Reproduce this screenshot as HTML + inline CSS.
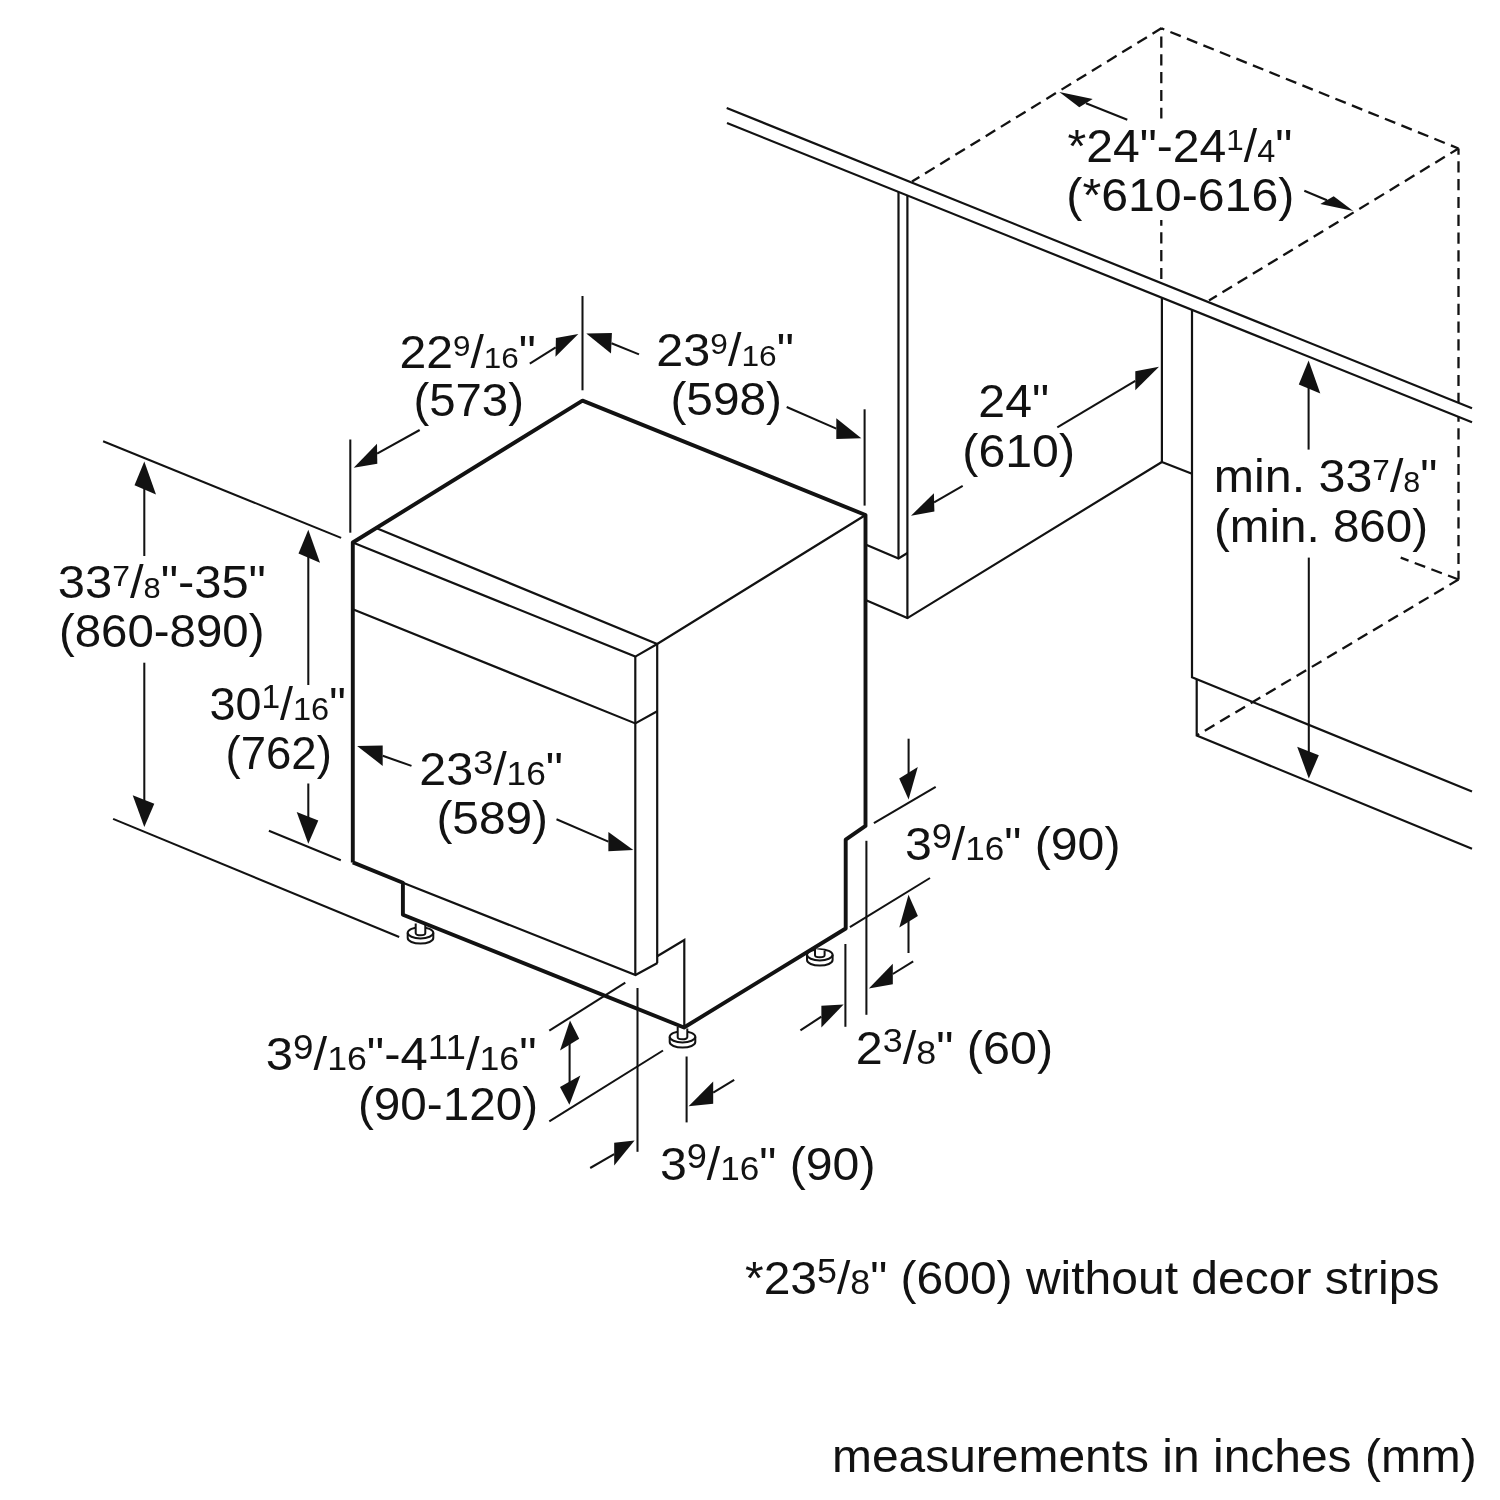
<!DOCTYPE html>
<html><head><meta charset="utf-8"><title>Dishwasher installation dimensions</title>
<style>
html,body{margin:0;padding:0;background:#fff;}
body{width:1500px;height:1500px;overflow:hidden;}
svg{display:block;}
text{font-family:"Liberation Sans",sans-serif;fill:#121212;white-space:pre;}
</style></head>
<body>
<svg width="1500" height="1500" viewBox="0 0 1500 1500">
<rect width="1500" height="1500" fill="#fff"/>
<path d="M898.5,191.5 L898.5,558.2" fill="none" stroke="#121212" stroke-width="2.2" stroke-linecap="butt" stroke-linejoin="miter"/>
<path d="M907.4,195.2 L907.4,618.4" fill="none" stroke="#121212" stroke-width="2.2" stroke-linecap="butt" stroke-linejoin="miter"/>
<path d="M866.7,545.0 L898.5,558.4 L907.4,553.0" fill="none" stroke="#121212" stroke-width="2.2" stroke-linecap="butt" stroke-linejoin="miter"/>
<path d="M866.7,600.5 L907.4,618.1 L1161.9,462.0" fill="none" stroke="#121212" stroke-width="2.2" stroke-linecap="butt" stroke-linejoin="miter"/>
<path d="M1161.9,298.0 L1161.9,462.0 L1192.0,473.7" fill="none" stroke="#121212" stroke-width="2.2" stroke-linecap="butt" stroke-linejoin="miter"/>
<path d="M1192.0,309.5 L1192.0,677.2 L1472.0,791.5" fill="none" stroke="#121212" stroke-width="2.2" stroke-linecap="butt" stroke-linejoin="miter"/>
<path d="M1196.7,679.2 L1196.7,735.5 L1472.0,848.7" fill="none" stroke="#121212" stroke-width="2.2" stroke-linecap="butt" stroke-linejoin="miter"/>
<path d="M1161.3,28.3 L912.0,181.5" fill="none" stroke="#121212" stroke-width="2.3" stroke-linecap="butt" stroke-linejoin="miter" stroke-dasharray="11.2 6.6" stroke-dashoffset="0.9"/>
<path d="M1161.3,28.3 L1458.5,148.5" fill="none" stroke="#121212" stroke-width="2.3" stroke-linecap="butt" stroke-linejoin="miter" stroke-dasharray="11.2 6.6" stroke-dashoffset="8"/>
<path d="M1161.3,27.7 L1161.3,283.2" fill="none" stroke="#121212" stroke-width="2.3" stroke-linecap="butt" stroke-linejoin="miter" stroke-dasharray="11.2 6.6" stroke-dashoffset="9.0"/>
<path d="M1458.5,148.5 L1458.5,579.5" fill="none" stroke="#121212" stroke-width="2.3" stroke-linecap="butt" stroke-linejoin="miter" stroke-dasharray="11.2 6.6" stroke-dashoffset="5"/>
<path d="M1458.5,148.5 L1209.0,300.5" fill="none" stroke="#121212" stroke-width="2.3" stroke-linecap="butt" stroke-linejoin="miter" stroke-dasharray="11.2 6.6" stroke-dashoffset="1.8"/>
<path d="M1458.5,579.5 L1400.7,557.7" fill="none" stroke="#121212" stroke-width="2.3" stroke-linecap="butt" stroke-linejoin="miter" stroke-dasharray="11.2 6.6" stroke-dashoffset="0"/>
<path d="M1458.5,579.5 L1196.7,735.5" fill="none" stroke="#121212" stroke-width="2.3" stroke-linecap="butt" stroke-linejoin="miter" stroke-dasharray="11.2 6.6" stroke-dashoffset="0.7"/>
<rect x="1150" y="118.5" width="22" height="101.5" fill="#fff"/>
<polygon points="726.7,108 1472,408.3 1472,422.3 727,123" fill="#fff"/>
<path d="M726.7,108.0 L1472.0,408.3" fill="none" stroke="#121212" stroke-width="2.2" stroke-linecap="butt" stroke-linejoin="miter"/>
<path d="M727.0,123.0 L1472.0,422.3" fill="none" stroke="#121212" stroke-width="2.2" stroke-linecap="butt" stroke-linejoin="miter"/>
<path d="M407.7,932.8 v5.2 a12.8,5.6 0 0 0 25.6,0 v-5.2" fill="#fff" stroke="#121212" stroke-width="2"/>
<ellipse cx="420.5" cy="932.8" rx="12.8" ry="5.6" fill="#fff" stroke="#121212" stroke-width="2"/>
<path d="M415.7,923.5 V933.3 a4.8,2 0 0 0 9.6,0 V925.0" fill="#fff" stroke="#121212" stroke-width="2"/>
<path d="M669.7,1036.8 v5.2 a12.8,5.6 0 0 0 25.6,0 v-5.2" fill="#fff" stroke="#121212" stroke-width="2"/>
<ellipse cx="682.5" cy="1036.8" rx="12.8" ry="5.6" fill="#fff" stroke="#121212" stroke-width="2"/>
<path d="M677.7,1027.0 V1037.3 a4.8,2 0 0 0 9.6,0 V1028.5" fill="#fff" stroke="#121212" stroke-width="2"/>
<path d="M807.0,954.8 v5.2 a12.8,5.6 0 0 0 25.6,0 v-5.2" fill="#fff" stroke="#121212" stroke-width="2"/>
<ellipse cx="819.8" cy="954.8" rx="12.8" ry="5.6" fill="#fff" stroke="#121212" stroke-width="2"/>
<path d="M815.0,949.0 V955.3 a4.8,2 0 0 0 9.6,0 V950.5" fill="#fff" stroke="#121212" stroke-width="2"/>
<path d="M352.8,542.5 L635.3,656.6 L657.2,644.0" fill="none" stroke="#121212" stroke-width="2.2" stroke-linecap="butt" stroke-linejoin="miter"/>
<path d="M376.7,528.3 L657.2,644.0 L865.5,515.0" fill="none" stroke="#121212" stroke-width="2.2" stroke-linecap="butt" stroke-linejoin="miter"/>
<path d="M352.8,609.3 L635.3,723.4 L657.2,711.2" fill="none" stroke="#121212" stroke-width="2.2" stroke-linecap="butt" stroke-linejoin="miter"/>
<path d="M635.3,656.6 L635.3,975.0" fill="none" stroke="#121212" stroke-width="2.2" stroke-linecap="butt" stroke-linejoin="miter"/>
<path d="M657.2,644.0 L657.2,963.0" fill="none" stroke="#121212" stroke-width="2.2" stroke-linecap="butt" stroke-linejoin="miter"/>
<path d="M402.9,882.7 L635.5,975.0 L657.5,963.0" fill="none" stroke="#121212" stroke-width="2.2" stroke-linecap="butt" stroke-linejoin="miter"/>
<path d="M657.2,956.2 L684.3,940.0 L684.3,1027.0" fill="none" stroke="#121212" stroke-width="2.2" stroke-linecap="butt" stroke-linejoin="miter"/>
<path d="M352.8,862.4 L352.8,542.5 L582.5,400.6 L865.5,515.0 L865.5,825.9 L845.7,839.7 L845.7,928.5 L684.0,1027.5 L402.9,914.7 L402.9,882.7 L352.8,862.4" fill="none" stroke="#121212" stroke-width="3.9" stroke-linecap="butt" stroke-linejoin="round"/>
<path d="M103.1,441.2 L341.1,537.9" fill="none" stroke="#121212" stroke-width="2.05" stroke-linecap="butt" stroke-linejoin="miter"/>
<path d="M113.1,818.9 L399.2,937.0" fill="none" stroke="#121212" stroke-width="2.05" stroke-linecap="butt" stroke-linejoin="miter"/>
<path d="M268.9,830.7 L340.8,860.2" fill="none" stroke="#121212" stroke-width="2.05" stroke-linecap="butt" stroke-linejoin="miter"/>
<path d="M350.3,439.5 L350.3,532.7" fill="none" stroke="#121212" stroke-width="2.05" stroke-linecap="butt" stroke-linejoin="miter"/>
<path d="M582.5,296.0 L582.5,390.3" fill="none" stroke="#121212" stroke-width="2.05" stroke-linecap="butt" stroke-linejoin="miter"/>
<path d="M864.6,409.3 L864.6,505.6" fill="none" stroke="#121212" stroke-width="2.05" stroke-linecap="butt" stroke-linejoin="miter"/>
<path d="M866.4,840.8 L866.4,1014.8" fill="none" stroke="#121212" stroke-width="2.05" stroke-linecap="butt" stroke-linejoin="miter"/>
<path d="M845.4,944.0 L845.4,1026.8" fill="none" stroke="#121212" stroke-width="2.05" stroke-linecap="butt" stroke-linejoin="miter"/>
<path d="M873.9,823.2 L935.7,786.9" fill="none" stroke="#121212" stroke-width="2.05" stroke-linecap="butt" stroke-linejoin="miter"/>
<path d="M849.9,927.2 L930.0,878.0" fill="none" stroke="#121212" stroke-width="2.05" stroke-linecap="butt" stroke-linejoin="miter"/>
<path d="M625.3,982.7 L549.3,1030.7" fill="none" stroke="#121212" stroke-width="2.05" stroke-linecap="butt" stroke-linejoin="miter"/>
<path d="M663.0,1050.5 L549.3,1121.3" fill="none" stroke="#121212" stroke-width="2.05" stroke-linecap="butt" stroke-linejoin="miter"/>
<path d="M637.5,988.0 L637.5,1151.8" fill="none" stroke="#121212" stroke-width="2.05" stroke-linecap="butt" stroke-linejoin="miter"/>
<path d="M686.6,1056.5 L686.6,1122.4" fill="none" stroke="#121212" stroke-width="2.05" stroke-linecap="butt" stroke-linejoin="miter"/>
<polygon points="1059.3,92.0 1092.7,99.0 1079.3,107.3" fill="#121212"/>
<path d="M1086.0,103.2 L1127.3,119.7" fill="none" stroke="#121212" stroke-width="2.05" stroke-linecap="butt" stroke-linejoin="miter"/>
<polygon points="1353.3,211.0 1333.7,196.3 1320.3,204.0" fill="#121212"/>
<path d="M1327.0,200.2 L1304.3,190.7" fill="none" stroke="#121212" stroke-width="2.05" stroke-linecap="butt" stroke-linejoin="miter"/>
<polygon points="578.3,333.9 555.9,338.1 555.5,356.7" fill="#121212"/>
<path d="M555.7,347.4 L529.8,363.7" fill="none" stroke="#121212" stroke-width="2.05" stroke-linecap="butt" stroke-linejoin="miter"/>
<polygon points="586.3,333.4 611.9,332.9 611.0,353.5" fill="#121212"/>
<path d="M611.5,343.2 L639.0,354.4" fill="none" stroke="#121212" stroke-width="2.05" stroke-linecap="butt" stroke-linejoin="miter"/>
<polygon points="353.7,467.7 377.0,443.7 377.3,463.7" fill="#121212"/>
<path d="M377.1,453.7 L419.7,430.0" fill="none" stroke="#121212" stroke-width="2.05" stroke-linecap="butt" stroke-linejoin="miter"/>
<polygon points="861.3,438.3 836.3,418.3 836.3,439.0" fill="#121212"/>
<path d="M836.3,428.6 L786.7,407.0" fill="none" stroke="#121212" stroke-width="2.05" stroke-linecap="butt" stroke-linejoin="miter"/>
<polygon points="1159.0,366.7 1135.3,371.3 1135.3,390.3" fill="#121212"/>
<path d="M1135.3,380.8 L1057.3,427.3" fill="none" stroke="#121212" stroke-width="2.05" stroke-linecap="butt" stroke-linejoin="miter"/>
<polygon points="911.0,515.7 933.9,493.3 934.4,511.5" fill="#121212"/>
<path d="M934.1,502.4 L962.7,485.9" fill="none" stroke="#121212" stroke-width="2.05" stroke-linecap="butt" stroke-linejoin="miter"/>
<polygon points="1308.6,360.6 1298.8,384.4 1320.3,393.6" fill="#121212"/>
<path d="M1308.6,386.6 L1308.6,449.6" fill="none" stroke="#121212" stroke-width="2.05" stroke-linecap="butt" stroke-linejoin="miter"/>
<polygon points="1308.8,778.5 1297.2,746.7 1318.8,755.3" fill="#121212"/>
<path d="M1308.8,752.5 L1308.8,557.6" fill="none" stroke="#121212" stroke-width="2.05" stroke-linecap="butt" stroke-linejoin="miter"/>
<polygon points="144.3,461.5 134.5,485.3 156.0,494.5" fill="#121212"/>
<path d="M144.3,487.5 L144.3,556.0" fill="none" stroke="#121212" stroke-width="2.05" stroke-linecap="butt" stroke-linejoin="miter"/>
<polygon points="144.3,827.0 132.7,795.2 154.3,803.8" fill="#121212"/>
<path d="M144.3,801.0 L144.3,662.7" fill="none" stroke="#121212" stroke-width="2.05" stroke-linecap="butt" stroke-linejoin="miter"/>
<polygon points="308.3,529.8 298.5,553.6 320.0,562.8" fill="#121212"/>
<path d="M308.3,555.8 L308.3,685.0" fill="none" stroke="#121212" stroke-width="2.05" stroke-linecap="butt" stroke-linejoin="miter"/>
<polygon points="308.3,843.7 296.7,811.9 318.3,820.5" fill="#121212"/>
<path d="M308.3,817.7 L308.3,783.5" fill="none" stroke="#121212" stroke-width="2.05" stroke-linecap="butt" stroke-linejoin="miter"/>
<polygon points="357.1,746.0 382.7,745.6 382.7,765.9" fill="#121212"/>
<path d="M382.7,755.8 L411.5,765.9" fill="none" stroke="#121212" stroke-width="2.05" stroke-linecap="butt" stroke-linejoin="miter"/>
<polygon points="633.3,850.1 608.4,832.0 608.4,851.2" fill="#121212"/>
<path d="M608.4,841.6 L556.5,819.2" fill="none" stroke="#121212" stroke-width="2.05" stroke-linecap="butt" stroke-linejoin="miter"/>
<polygon points="908.6,799.6 899.2,778.4 917.8,767.0" fill="#121212"/>
<path d="M908.6,773.6 L908.6,738.7" fill="none" stroke="#121212" stroke-width="2.05" stroke-linecap="butt" stroke-linejoin="miter"/>
<polygon points="908.5,894.8 899.3,927.4 917.9,916.0" fill="#121212"/>
<path d="M908.5,920.8 L908.5,953.0" fill="none" stroke="#121212" stroke-width="2.05" stroke-linecap="butt" stroke-linejoin="miter"/>
<polygon points="868.8,988.4 892.8,963.8 892.8,984.2" fill="#121212"/>
<path d="M892.8,974.0 L913.2,961.4" fill="none" stroke="#121212" stroke-width="2.05" stroke-linecap="butt" stroke-linejoin="miter"/>
<polygon points="843.6,1004.6 821.4,1005.8 821.4,1027.4" fill="#121212"/>
<path d="M821.4,1016.6 L800.4,1030.4" fill="none" stroke="#121212" stroke-width="2.05" stroke-linecap="butt" stroke-linejoin="miter"/>
<polygon points="570.0,1020.5 560.0,1050.4 579.2,1038.8" fill="#121212"/>
<polygon points="569.4,1104.8 560.0,1087.1 580.4,1075.4" fill="#121212"/>
<path d="M569.6,1042.0 L569.6,1083.0" fill="none" stroke="#121212" stroke-width="2.05" stroke-linecap="butt" stroke-linejoin="miter"/>
<polygon points="688.6,1106.2 713.2,1081.6 713.2,1103.8" fill="#121212"/>
<path d="M713.2,1092.7 L734.2,1079.8" fill="none" stroke="#121212" stroke-width="2.05" stroke-linecap="butt" stroke-linejoin="miter"/>
<polygon points="634.6,1140.6 614.2,1142.8 614.2,1165.6" fill="#121212"/>
<path d="M614.2,1154.2 L590.2,1168.0" fill="none" stroke="#121212" stroke-width="2.05" stroke-linecap="butt" stroke-linejoin="miter"/>
<g opacity="0.999">
<g id="T1" transform="translate(1067.47,162) scale(1.0462,1)"><text x="0" y="0" font-size="46"><tspan dy="0">*24&quot;-24</tspan><tspan font-size="30" dy="-11.6">1</tspan><tspan dy="11.6">/</tspan><tspan font-size="31" dy="0">4</tspan><tspan dy="0">&quot;</tspan></text></g>
<g id="T2" transform="translate(1066.37,211.2) scale(1.0491,1)"><text x="0" y="0" font-size="46"><tspan dy="0">(*610-616)</tspan></text></g>
<g id="T3" transform="translate(399.40,367.5) scale(1.0476,1)"><text x="0" y="0" font-size="46"><tspan dy="0">22</tspan><tspan font-size="30" dy="-11.6">9</tspan><tspan dy="11.6">/</tspan><tspan font-size="30" dy="0">16</tspan><tspan dy="0">&quot;</tspan></text></g>
<g id="T4" transform="translate(413.41,415.5) scale(1.0295,1)"><text x="0" y="0" font-size="46"><tspan dy="0">(573)</tspan></text></g>
<g id="T5" transform="translate(656.36,366) scale(1.0556,1)"><text x="0" y="0" font-size="46"><tspan dy="0">23</tspan><tspan font-size="30" dy="-11.6">9</tspan><tspan dy="11.6">/</tspan><tspan font-size="30" dy="0">16</tspan><tspan dy="0">&quot;</tspan></text></g>
<g id="T6" transform="translate(670.40,415) scale(1.0393,1)"><text x="0" y="0" font-size="46"><tspan dy="0">(598)</tspan></text></g>
<g id="T7" transform="translate(978.37,417) scale(1.0481,1)"><text x="0" y="0" font-size="46"><tspan dy="0">24&quot;</tspan></text></g>
<g id="T8" transform="translate(962.37,466.5) scale(1.0492,1)"><text x="0" y="0" font-size="46"><tspan dy="0">(610)</tspan></text></g>
<g id="T9" transform="translate(1213.85,492) scale(1.0510,1)"><text x="0" y="0" font-size="46"><tspan dy="0">min. 33</tspan><tspan font-size="30" dy="-11.6">7</tspan><tspan dy="11.6">/</tspan><tspan font-size="29" dy="0">8</tspan><tspan dy="0">&quot;</tspan></text></g>
<g id="T10" transform="translate(1213.90,541.6) scale(1.0348,1)"><text x="0" y="0" font-size="46"><tspan dy="0">(min. 860)</tspan></text></g>
<g id="T11" transform="translate(57.85,597.5) scale(1.0625,1)"><text x="0" y="0" font-size="46"><tspan dy="0">33</tspan><tspan font-size="30" dy="-11.6">7</tspan><tspan dy="11.6">/</tspan><tspan font-size="29" dy="0">8</tspan><tspan dy="0">&quot;-35&quot;</tspan></text></g>
<g id="T12" transform="translate(58.91,647) scale(1.0309,1)"><text x="0" y="0" font-size="46"><tspan dy="0">(860-890)</tspan></text></g>
<g id="T13" transform="translate(209.46,719.5) scale(1.0154,1)"><text x="0" y="0" font-size="46"><tspan dy="0">30</tspan><tspan font-size="33" dy="-11.6">1</tspan><tspan dy="11.6">/</tspan><tspan font-size="32" dy="0">16</tspan><tspan dy="0">&quot;</tspan></text></g>
<g id="T14" transform="translate(225.51,769) scale(0.9904,1)"><text x="0" y="0" font-size="46"><tspan dy="0">(762)</tspan></text></g>
<g id="T15" transform="translate(419.36,785.3) scale(1.0531,1)"><text x="0" y="0" font-size="46"><tspan dy="0">23</tspan><tspan font-size="34" dy="-11.6">3</tspan><tspan dy="11.6">/</tspan><tspan font-size="33.5" dy="0">16</tspan><tspan dy="0">&quot;</tspan></text></g>
<g id="T16" transform="translate(436.40,834.3) scale(1.0393,1)"><text x="0" y="0" font-size="46"><tspan dy="0">(589)</tspan></text></g>
<g id="T17" transform="translate(904.90,860) scale(1.0478,1)"><text x="0" y="0" font-size="46"><tspan dy="0">3</tspan><tspan font-size="34.5" dy="-11.6">9</tspan><tspan dy="11.6">/</tspan><tspan font-size="33.5" dy="0">16</tspan><tspan dy="0">&quot; (90)</tspan></text></g>
<g id="T18" transform="translate(855.87,1063.8) scale(1.0539,1)"><text x="0" y="0" font-size="46"><tspan dy="0">2</tspan><tspan font-size="34" dy="-11.6">3</tspan><tspan dy="11.6">/</tspan><tspan font-size="34" dy="0">8</tspan><tspan dy="0">&quot; (60)</tspan></text></g>
<g id="T19" transform="translate(265.87,1070.3) scale(1.0648,1)"><text x="0" y="0" font-size="46"><tspan dy="0">3</tspan><tspan font-size="34.5" dy="-11.6">9</tspan><tspan dy="11.6">/</tspan><tspan font-size="33.5" dy="0">16</tspan><tspan dy="0">&quot;-4</tspan><tspan font-size="34.5" dy="-11.6">11</tspan><tspan dy="11.6">/</tspan><tspan font-size="33.5" dy="0">16</tspan><tspan dy="0">&quot;</tspan></text></g>
<g id="T20" transform="translate(357.89,1119.6) scale(1.0369,1)"><text x="0" y="0" font-size="46"><tspan dy="0">(90-120)</tspan></text></g>
<g id="T21" transform="translate(659.90,1180) scale(1.0478,1)"><text x="0" y="0" font-size="46"><tspan dy="0">3</tspan><tspan font-size="34.5" dy="-11.6">9</tspan><tspan dy="11.6">/</tspan><tspan font-size="33.5" dy="0">16</tspan><tspan dy="0">&quot; (90)</tspan></text></g>
<g id="T22" transform="translate(744.97,1294.2) scale(1.0215,1)"><text x="0" y="0" font-size="47"><tspan dy="0">*23</tspan><tspan font-size="35" dy="-11.6">5</tspan><tspan dy="11.6">/</tspan><tspan font-size="35" dy="0">8</tspan><tspan dy="0">&quot; (600) without decor strips</tspan></text></g>
<g id="T23" transform="translate(831.94,1472.3) scale(1.0204,1)"><text x="0" y="0" font-size="47"><tspan dy="0">measurements in inches (mm)</tspan></text></g>
</g>
</svg>
</body></html>
